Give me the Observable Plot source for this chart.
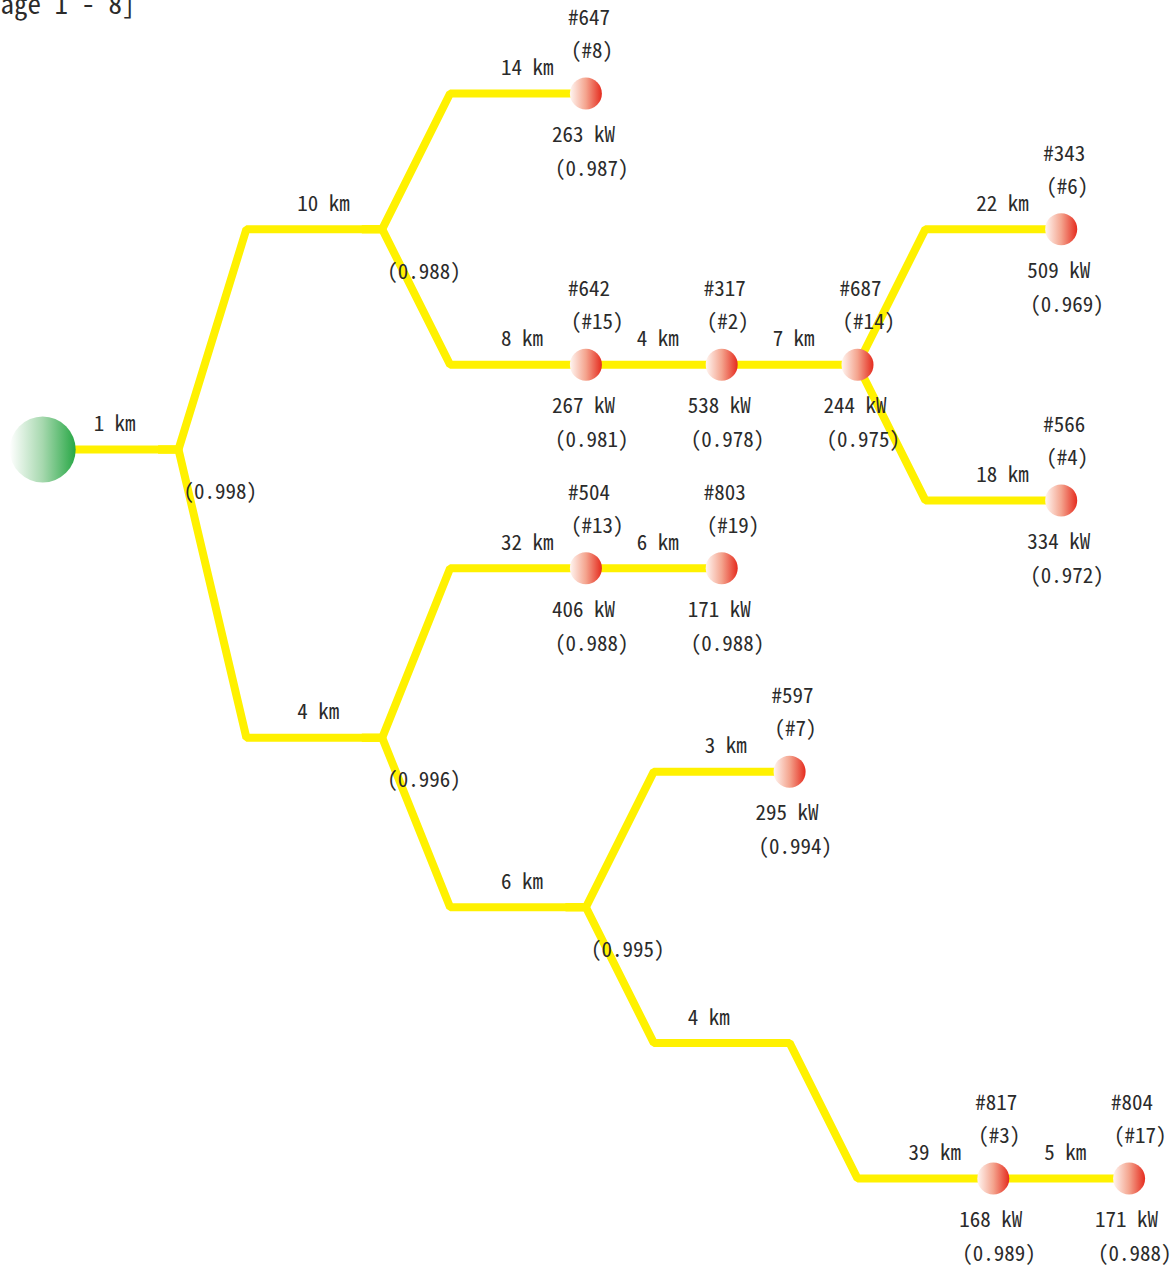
<!DOCTYPE html>
<html>
<head>
<meta charset="utf-8">
<script src="https://cdn.jsdelivr.net/npm/d3@7"></script>
<script src="https://cdn.jsdelivr.net/npm/@observablehq/plot@0.6"></script>
<style>
  html, body { margin: 0; padding: 0; background: #fff; }
  #chart svg { display: block; }
</style>
</head>
<body>
<div id="chart"></div>
<script>
// ---- data ----
const headerText = "[Page 1 - 8]";

// terminal / intermediate nodes
const nodeIds   = ["#647", "#642", "#317", "#687", "#343", "#566", "#504", "#803", "#597", "#817", "#804"];
const nodeRanks = ["(#8)", "(#15)", "(#2)", "(#14)", "(#6)", "(#4)", "(#13)", "(#19)", "(#7)", "(#3)", "(#17)"];
const nodeLoadKW = [263, 267, 538, 244, 509, 334, 406, 171, 295, 168, 171];
const nodeReliability = [0.987, 0.981, 0.978, 0.975, 0.969, 0.972, 0.988, 0.988, 0.994, 0.989, 0.988];
const nodeCol = [6, 6, 8, 10, 13, 13, 6, 8, 9, 12, 14];
const nodeRow = [0, 2, 2, 2, 1, 3, 3.5, 3.5, 5, 8, 8];

// branching junctions
const junctionCol = [0, 3, 3, 6];
const junctionRow = [2.625, 1, 4.75, 6];
const junctionReliability = [0.998, 0.988, 0.996, 0.995];

// source (root)
const rootCol = [-2];
const rootRow = [2.625];

// edges (polyline points in col/row layout units) and lengths
const edgePaths = [
  [[-2, 2.625], [0, 2.625]],
  [[-0.3, 2.625], [0, 2.625], [1, 1], [3, 1]],
  [[-0.3, 2.625], [0, 2.625], [1, 4.75], [3, 4.75]],
  [[2.7, 1], [3, 1], [4, 0], [6, 0]],
  [[2.7, 1], [3, 1], [4, 2], [6, 2]],
  [[6, 2], [8, 2]],
  [[8, 2], [10, 2]],
  [[10, 2], [11, 1], [13, 1]],
  [[10, 2], [11, 3], [13, 3]],
  [[2.7, 4.75], [3, 4.75], [4, 3.5], [6, 3.5]],
  [[6, 3.5], [8, 3.5]],
  [[2.7, 4.75], [3, 4.75], [4, 6], [6, 6]],
  [[5.7, 6], [6, 6], [7, 5], [9, 5]],
  [[5.7, 6], [6, 6], [7, 7], [9, 7]],
  [[8.7, 7], [9, 7], [10, 8], [12, 8]],
  [[12, 8], [14, 8]]
];
const edgeKm = [1, 10, 4, 14, 8, 4, 7, 22, 18, 32, 6, 6, 3, 4, 39, 5];
const edgeLabelBack = [1.25, 1.25, 1.25, 1.25, 1.25, 1.25, 1.25, 1.25, 1.25, 1.25, 1.25, 1.25, 1.25, 1.5, 1.25, 1.25];

// ---- tables built from arrays ----
const lineRows = edgePaths.flatMap((pts, i) => pts.map(([c, r]) => ({edge: i, col: c, row: r})));
const edgeLabels = edgePaths.map((pts, i) => {
  const end = pts[pts.length - 1];
  return {col: end[0] - edgeLabelBack[i], row: end[1], text: `${edgeKm[i]} km`};
});
const nodes = nodeIds.map((id, i) => ({
  id, rank: nodeRanks[i], load: `${nodeLoadKW[i]} kW`,
  rel: `(${nodeReliability[i].toFixed(3)})`, col: nodeCol[i], row: nodeRow[i]
}));
const junctions = junctionCol.map((c, i) => ({col: c, row: junctionRow[i], rel: `(${junctionReliability[i].toFixed(3)})`}));
const roots = rootCol.map((c, i) => ({col: c, row: rootRow[i]}));

const textColor = "#2b2b2b";
const txt = {textAnchor: "start", fill: textColor, fontSize: 21};

const svg = Plot.plot({
  width: 1171,
  height: 1269,
  margin: 0,
  x: {domain: [-2, 14], range: [42.2, 1128.6], axis: null},
  y: {domain: [0, 8], range: [93, 1178], axis: null},
  style: {fontFamily: "'Noto Sans CJK JP', 'Noto Sans', sans-serif", fontSize: "21px", background: "#fff"},
  marks: [
    Plot.text([headerText], {frameAnchor: "top-left", text: d => d, dx: -27, dy: -6, textAnchor: "start", fill: textColor, fontSize: 27}),
    Plot.line(lineRows, {x: "col", y: "row", z: "edge", stroke: "#fff100", strokeWidth: 8, strokeLinejoin: "miter", strokeLinecap: "butt", curve: "linear"}),
    Plot.dot(roots, {x: "col", y: "row", r: 33, fill: "url(#greenGrad)", stroke: "none"}),
    Plot.dot(nodes, {x: "col", y: "row", r: 16, fill: "url(#redGrad)", stroke: "none"}),
    Plot.text(edgeLabels, {x: "col", y: "row", text: "text", dy: -25, ...txt}),
    Plot.text(nodes, {x: "col", y: "row", text: "id", dx: -18, dy: -75, ...txt}),
    Plot.text(nodes, {x: "col", y: "row", text: "rank", dx: -15, dy: -42, ...txt}),
    Plot.text(nodes, {x: "col", y: "row", text: "load", dx: -34, dy: 42, ...txt}),
    Plot.text(nodes, {x: "col", y: "row", text: "rel", dx: -31, dy: 76, ...txt}),
    Plot.text(junctions, {x: "col", y: "row", text: "rel", dx: 5, dy: 43, ...txt})
  ]
});
svg.style.fontFeatureSettings = '"hwid" 1';

const defs = d3.select(svg).insert("defs", ":first-child");
function grad(id, stops) {
  const g = defs.append("linearGradient").attr("id", id).attr("x1", "0").attr("y1", "0").attr("x2", "1").attr("y2", "0");
  stops.forEach(([o, c]) => g.append("stop").attr("offset", o).attr("stop-color", c));
}
grad("redGrad", [[0, "#fff6f2"], [0.5, "#f4a48e"], [1, "#e52b1e"]]);
grad("greenGrad", [[0, "#ffffff"], [0.5, "#a6d8ae"], [1, "#27a745"]]);

document.getElementById("chart").appendChild(svg);
</script>
</body>
</html>
